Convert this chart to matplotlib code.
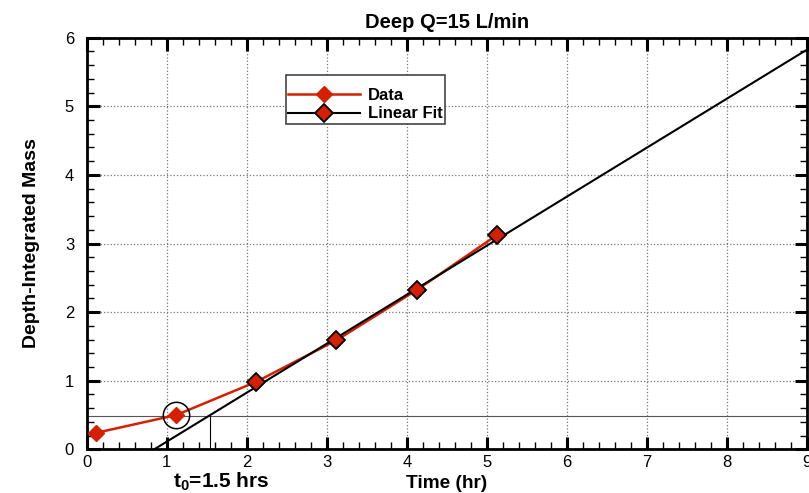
import matplotlib
matplotlib.use("Agg")
import matplotlib.pyplot as plt
from matplotlib.ticker import MultipleLocator

plt.rcParams["font.family"] = ["Liberation Sans", "DejaVu Sans"]

# ── values ─────────────────────────────────────────────────────────────────
time_hr = [0.12, 1.12, 2.12, 3.12, 4.12, 5.12]
mass = [0.24, 0.50, 0.985, 1.59, 2.32, 3.12]
fit_time = [2.12, 3.12, 4.12, 5.12]          # points used for the fit
fit_mass = [0.985, 1.59, 2.32, 3.12]
fit_line_x = [0.845, 9.0]                    # fit line end points
fit_line_y = [0.0, 5.83]
t0 = 1.54                                    # where the fit crosses the level
level = 0.49                                 # horizontal reference level
circled = (1.12, 0.50)

RED = "#d42000"

fig = plt.figure(figsize=(8.09, 4.93), dpi=100)
ax = fig.add_axes([0.107, 0.0886, 0.891, 0.8349])

ax.plot(time_hr, mass, color=RED, lw=1.8, marker="D", ms=8,
        mfc=RED, mec=RED, label="Data", zorder=3)
ax.plot(fit_line_x, fit_line_y, color="black", lw=1.5, zorder=4)
ax.plot(fit_time, fit_mass, ls="none", marker="D", ms=9,
        mfc=RED, mec="black", mew=1.3, zorder=5)
# legend proxy for the fit
ax.plot([], [], color="black", lw=1.5, marker="D", ms=9,
        mfc=RED, mec="black", mew=1.3, label="Linear Fit")

ax.axhline(level, color="#555555", lw=0.8, zorder=2)
ax.plot([t0, t0], [0, level], color="black", lw=0.8, zorder=2)
ax.plot(*circled, marker="o", ms=19, mfc="none", mec="black", mew=1.1, zorder=6)

ax.set_xlim(0, 9)
ax.set_ylim(0, 6)
ax.xaxis.set_major_locator(MultipleLocator(1))
ax.xaxis.set_minor_locator(MultipleLocator(0.2))
ax.yaxis.set_major_locator(MultipleLocator(1))
ax.yaxis.set_minor_locator(MultipleLocator(0.2))
ax.tick_params(which="both", direction="in", top=True, right=True,
               labelsize=12)
ax.tick_params(which="major", length=9, width=2.2)
ax.tick_params(axis="x", which="major", pad=4)
ax.tick_params(axis="y", which="major", pad=9)
ax.tick_params(which="minor", length=5, width=1)
for s in ax.spines.values():
    s.set_linewidth(2)
ax.grid(True, which="major", ls=":", color="#777777", lw=0.9)

ax.set_title("Deep Q=15 L/min", fontsize=14.5, fontweight="bold", pad=7)
ax.set_ylabel("Depth-Integrated Mass", fontsize=14, fontweight="bold",
              labelpad=18)
ax.set_xlabel("Time (hr)", fontsize=13.7, fontweight="bold", labelpad=4)
ax.text(1.68, -0.31, r"t$_\mathregular{0}$=1.5 hrs", ha="center", va="top",
        fontsize=15, fontweight="bold")

leg = ax.legend(loc="upper left", bbox_to_anchor=(0.276, 0.909),
                borderaxespad=0, fancybox=False, framealpha=1,
                edgecolor="#444444", prop={"weight": "bold", "size": 12},
                handlelength=4.3, handletextpad=0.5,
                borderpad=0.15, labelspacing=0.2,
                title=" ", title_fontsize=6)
leg.get_frame().set_linewidth(1.2)

fig.savefig("out.png", dpi=100)
